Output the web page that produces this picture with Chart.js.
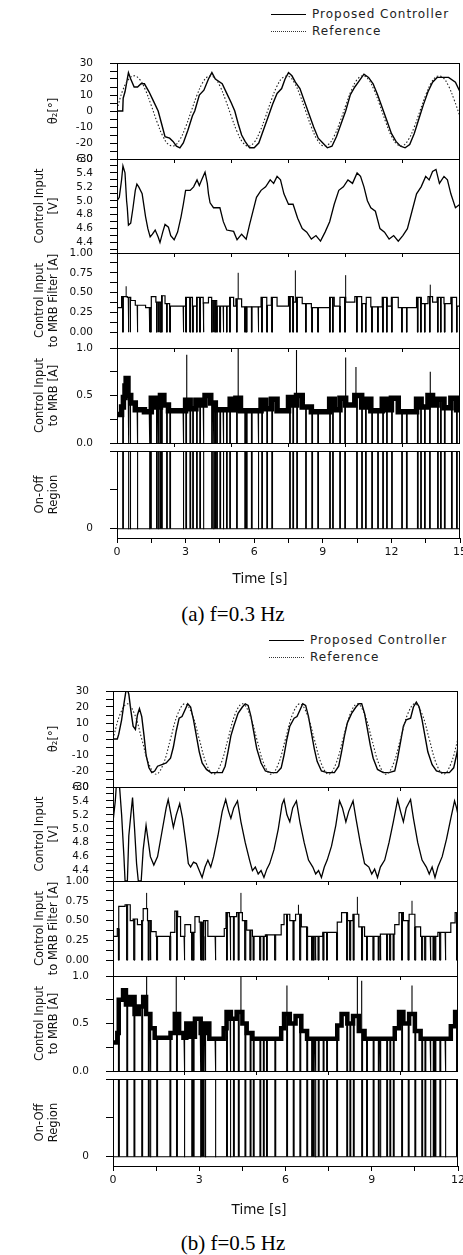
<!DOCTYPE html>
<html><head><meta charset="utf-8">
<script src="https://cdn.jsdelivr.net/npm/chart.js"></script>
<style>
html,body{margin:0;padding:0;background:#fff;}
body{width:463px;height:1255px;position:relative;overflow:hidden;font-family:"DejaVu Sans",sans-serif;}
canvas{position:absolute;left:0;}
.txt{position:absolute;white-space:nowrap;line-height:1;transform:translate(-50%,-50%);}
.lgrow{position:absolute;height:16px;display:flex;align-items:center;font:12px "DejaVu Sans";letter-spacing:1px;color:#222;transform:translateY(-50%);}
.lgline{display:inline-block;width:35px;height:0;border-top:1.3px solid #000;margin-right:6px;}
.lgdot{border-top:1.3px dotted #333;}
.cap{font:21px "Liberation Serif",serif;color:#000;}
.xt{font:13.5px "DejaVu Sans",sans-serif;color:#111;}
</style></head><body>
<script>
// ---------------- DATA ----------------
// (a) f = 0.3 Hz, 0..15 s
const timeTicksA = [0,1.5,3,4.5,6,7.5,9,10.5,12,13.5,15];
const timeLabelsA = ['0','','3','','6','','9','','12','','15'];
const innerTimeTicksA = [2.5,5,7.5,10,12.5];
// (b) f = 0.5 Hz, 0..12 s
const timeTicksB = [0,1.5,3,4.5,6,7.5,9,10.5,12];
const timeLabelsB = ['0','','3','','6','','9','','12'];
const innerTimeTicksB = [2.5,5,7.5,10];

const thetaTicks = [-30,-25,-20,-15,-10,-5,0,5,10,15,20,25,30];
const thetaTickLabels = ['-30','','-20','','-10','','0','','10','','20','','30'];
const voltTicks = [4.3,4.4,4.5,4.6,4.7,4.8,4.9,5.0,5.1,5.2,5.3,5.4,5.5,5.6];
const voltTickLabels = ['','4.4','','4.6','','4.8','','5.0','','5.2','','5.4','','6.0'];
const filterTicks = [0,0.125,0.25,0.375,0.5,0.625,0.75,0.875,1.0];
const filterTickLabels = ['0.00','','0.25','','0.50','','0.75','','1.00'];
const mrbTicks = [0,0.25,0.5,0.75,1.0];
const mrbTickLabels = ['0.0','','0.5','','1.0'];
const onOffTicks = [0,0.5,1];
const onOffTickLabels = ['0','',''];

// θ2 proposed controller (a) [t, deg]
const thetaPropA = [[0,0],[0.25,0],[0.27,8],[0.35,12],[0.5,24],[0.6,20],[0.75,15],[0.9,15],[1.05,17],[1.2,17],[1.4,12],[1.6,6],[1.8,0],[1.95,-8],[2.1,-16],[2.3,-17],[2.45,-19],[2.6,-22],[2.75,-23],[2.9,-20],[3.1,-12],[3.3,-3],[3.4,0],[3.6,10],[3.8,13],[4.0,20],[4.15,24],[4.3,20],[4.6,17],[4.8,11],[5.0,5],[5.15,0],[5.3,-8],[5.45,-15],[5.6,-19],[5.8,-23],[6.0,-23],[6.2,-20],[6.4,-12],[6.6,-4],[6.8,4],[7.0,11],[7.2,14],[7.35,20],[7.5,24],[7.65,22],[7.8,18],[8.0,14],[8.2,6],[8.4,-2],[8.6,-10],[8.8,-17],[9.0,-20],[9.2,-23],[9.4,-22],[9.6,-16],[9.8,-8],[10.0,0],[10.2,10],[10.4,15],[10.6,19],[10.8,23],[11.0,21],[11.2,17],[11.4,10],[11.6,2],[11.8,-6],[12.0,-14],[12.2,-19],[12.4,-22],[12.6,-23],[12.8,-21],[13.0,-14],[13.2,-5],[13.4,4],[13.6,12],[13.8,18],[14.0,21],[14.2,21],[14.5,21],[14.8,18],[15.0,12]];
// θ2 reference (a), sampled every 0.25 s
const thetaRefStepA = 0.25;
const thetaRefA = [1,12.9,19.6,22,19.6,12.9,3.4,-6.8,-15.6,-20.9,-21.7,-17.8,-10,0,10,17.8,21.7,20.9,15.6,6.8,-3.4,-12.9,-19.6,-22,-19.6,-12.9,-3.4,6.8,15.6,20.9,21.7,17.8,10,0,-10,-17.8,-21.7,-20.9,-15.6,-6.8,3.4,12.9,19.6,22,19.6,12.9,3.4,-6.8,-15.6,-20.9,-21.7,-17.8,-10,0,10,17.8,21.7,20.9,15.6,6.8,-3.4];
// control input voltage (a) [t, V]
const voltA = [[0,5.0],[0.1,5.05],[0.2,5.3],[0.26,5.5],[0.35,5.4],[0.42,5.0],[0.45,4.9],[0.5,4.65],[0.6,4.68],[0.7,4.9],[0.8,5.15],[0.87,5.24],[0.95,5.2],[1.1,5.1],[1.25,4.77],[1.35,4.6],[1.45,4.48],[1.55,4.52],[1.67,4.58],[1.8,4.48],[1.88,4.4],[2.0,4.55],[2.1,4.66],[2.25,4.62],[2.35,4.5],[2.5,4.44],[2.65,4.55],[2.8,4.77],[2.9,4.95],[3.0,5.15],[3.2,5.15],[3.35,5.2],[3.5,5.3],[3.6,5.22],[3.7,5.3],[3.85,5.41],[3.95,5.25],[4.0,5.1],[4.07,4.97],[4.22,4.9],[4.5,4.9],[4.65,4.7],[4.8,4.58],[5.1,4.56],[5.25,4.44],[5.45,4.52],[5.65,4.45],[5.8,4.66],[6.1,5.05],[6.3,5.15],[6.5,5.2],[6.7,5.3],[6.85,5.25],[7.0,5.35],[7.15,5.3],[7.3,5.1],[7.5,4.95],[7.7,4.95],[7.9,4.75],[8.1,4.6],[8.3,4.55],[8.5,4.45],[8.7,4.5],[8.9,4.42],[9.1,4.55],[9.3,4.7],[9.5,4.95],[9.7,5.15],[9.9,5.2],[10.1,5.3],[10.3,5.25],[10.5,5.4],[10.65,5.35],[10.8,5.2],[10.95,5.0],[11.1,4.9],[11.3,4.85],[11.5,4.6],[11.7,4.55],[11.9,4.45],[12.1,4.5],[12.3,4.42],[12.5,4.5],[12.7,4.6],[12.9,4.85],[13.1,5.1],[13.3,5.2],[13.5,5.35],[13.65,5.3],[13.8,5.42],[13.95,5.45],[14.1,5.25],[14.3,5.35],[14.45,5.3],[14.6,5.1],[14.8,4.9],[15.0,4.95]];
// on-off switching instants (a) [s]
const onOffA = [0.25,0.49,0.57,0.88,1.41,1.47,1.73,1.80,1.88,1.95,2.17,2.31,2.89,3.01,3.19,3.31,3.48,3.62,3.77,4.14,4.21,4.28,4.36,4.50,4.64,4.79,4.93,5.23,5.59,5.66,5.88,6.17,6.33,6.55,6.77,7.55,7.69,7.86,8.25,8.52,8.78,9.30,9.43,9.74,9.96,10.48,10.70,10.87,11.14,11.40,11.62,11.79,12.01,12.45,12.66,13.14,13.28,13.45,13.67,14.02,14.15,14.32,14.63,14.85];
// MRB filter input levels (a) [t, A] (held)
const filterA = [[0,0.31],[0.2,0.45],[0.45,0.44],[0.6,0.40],[0.8,0.34],[1.25,0.31],[1.5,0.45],[1.7,0.38],[1.95,0.46],[2.1,0.36],[2.3,0.33],[3.0,0.44],[3.3,0.33],[3.48,0.44],[3.77,0.37],[4.0,0.44],[4.14,0.40],[4.36,0.33],[4.93,0.44],[5.1,0.33],[5.2,0.42],[5.45,0.32],[6.3,0.44],[6.55,0.34],[6.75,0.44],[7.0,0.33],[7.5,0.45],[7.7,0.38],[7.85,0.44],[8.1,0.36],[8.5,0.31],[9.3,0.44],[9.5,0.33],[9.75,0.44],[10.0,0.38],[10.4,0.45],[10.7,0.36],[10.9,0.44],[11.1,0.32],[11.6,0.44],[11.8,0.33],[12.0,0.44],[12.3,0.31],[13.1,0.44],[13.3,0.36],[13.6,0.45],[13.8,0.38],[14.0,0.44],[14.3,0.36],[14.6,0.44],[14.85,0.33]];
const filterSpikesA = [[0.4,0.58],[5.3,0.75],[7.8,0.78],[10.0,0.72],[13.7,0.6]];
// MRB input current levels (a)
const mrbA = [[0,0.3],[0.2,0.38],[0.28,0.48],[0.35,0.6],[0.4,0.68],[0.48,0.5],[0.6,0.42],[0.8,0.35],[1.2,0.33],[1.5,0.47],[1.7,0.38],[1.9,0.5],[2.05,0.4],[2.25,0.34],[3.0,0.45],[3.2,0.36],[3.45,0.45],[3.65,0.4],[3.85,0.5],[4.1,0.42],[4.3,0.35],[4.95,0.46],[5.1,0.35],[5.2,0.47],[5.4,0.34],[6.3,0.45],[6.5,0.36],[6.75,0.46],[7.0,0.34],[7.5,0.48],[7.7,0.4],[7.85,0.5],[8.1,0.38],[8.5,0.33],[9.3,0.46],[9.5,0.35],[9.75,0.47],[10.0,0.4],[10.4,0.5],[10.7,0.38],[10.9,0.46],[11.1,0.34],[11.6,0.46],[11.8,0.35],[12.0,0.47],[12.3,0.33],[13.1,0.46],[13.3,0.38],[13.6,0.5],[13.8,0.4],[14.0,0.46],[14.3,0.37],[14.6,0.47],[14.85,0.35]];
const mrbSpikesA = [[3.05,0.93],[5.3,1.0],[7.85,0.98],[10.0,0.9],[10.45,0.8],[13.7,0.75]];

// θ2 proposed (b)
const thetaPropB = [[0,0],[0.15,0],[0.2,3],[0.3,12],[0.38,22],[0.45,30],[0.5,31],[0.55,28],[0.62,18],[0.7,8],[0.78,6],[0.85,15],[0.92,19],[1.0,14],[1.08,2],[1.15,-10],[1.25,-18],[1.35,-21],[1.45,-20],[1.55,-17],[1.7,-16],[1.85,-15],[2.0,-12],[2.1,-5],[2.2,5],[2.3,13],[2.4,14],[2.5,18],[2.6,22],[2.7,20],[2.8,12],[2.9,2],[3.0,-8],[3.1,-15],[3.25,-19],[3.4,-21],[3.6,-21],[3.8,-21],[3.9,-17],[4.0,-8],[4.1,2],[4.2,8],[4.35,16],[4.5,20],[4.6,22],[4.7,21],[4.8,14],[4.9,4],[5.0,-6],[5.15,-15],[5.3,-20],[5.5,-21],[5.7,-21],[5.85,-18],[5.95,-10],[6.05,0],[6.15,8],[6.3,13],[6.4,14],[6.5,18],[6.6,22],[6.7,21],[6.8,14],[6.9,4],[7.0,-6],[7.1,-14],[7.25,-20],[7.45,-21],[7.7,-21],[7.85,-17],[7.95,-8],[8.05,2],[8.15,10],[8.3,16],[8.45,20],[8.55,22],[8.65,22],[8.75,16],[8.85,6],[8.95,-4],[9.05,-12],[9.2,-19],[9.4,-21],[9.6,-21],[9.8,-20],[9.9,-12],[10.0,-2],[10.1,8],[10.2,12],[10.35,13],[10.45,20],[10.55,23],[10.65,20],[10.75,12],[10.85,2],[10.95,-8],[11.1,-16],[11.25,-20],[11.45,-21],[11.7,-21],[11.85,-18],[11.95,-10],[12,-5]];
const thetaRefStepB = 0.25;
const thetaRefB = [0,15.6,22,15.6,0,-15.6,-22,-15.6,0,15.6,22,15.6,0,-15.6,-22,-15.6,0,15.6,22,15.6,0,-15.6,-22,-15.6,0,15.6,22,15.6,0,-15.6,-22,-15.6,0,15.6,22,15.6,0,-15.6,-22,-15.6,0,15.6,22,15.6,0,-15.6,-22,-15.6,0];
const voltB = [[0,5.1],[0.08,5.4],[0.12,5.65],[0.22,5.65],[0.3,5.2],[0.38,4.6],[0.42,4.25],[0.5,4.25],[0.55,4.9],[0.62,5.2],[0.68,5.45],[0.75,5.0],[0.82,4.5],[0.88,4.25],[0.98,4.25],[1.05,4.7],[1.15,5.05],[1.2,4.9],[1.3,4.6],[1.42,4.48],[1.55,4.6],[1.7,4.95],[1.85,5.3],[1.92,5.42],[2.02,5.2],[2.1,5.02],[2.2,5.2],[2.32,5.36],[2.42,5.15],[2.55,4.75],[2.62,4.5],[2.7,4.45],[2.8,4.52],[2.9,4.5],[3.0,4.4],[3.1,4.3],[3.2,4.45],[3.3,4.55],[3.4,4.45],[3.5,4.6],[3.65,4.9],[3.8,5.25],[3.92,5.42],[4.02,5.25],[4.1,5.15],[4.2,5.3],[4.33,5.4],[4.45,5.1],[4.6,4.8],[4.75,4.55],[4.85,4.4],[4.95,4.45],[5.05,4.35],[5.15,4.4],[5.25,4.3],[5.35,4.42],[5.45,4.5],[5.6,4.7],[5.75,5.0],[5.88,5.35],[5.95,5.42],[6.05,5.2],[6.15,5.1],[6.25,5.3],[6.38,5.4],[6.5,5.1],[6.65,4.8],[6.8,4.55],[6.95,4.45],[7.05,4.35],[7.15,4.4],[7.25,4.3],[7.35,4.45],[7.45,4.55],[7.6,4.75],[7.75,5.05],[7.88,5.4],[7.98,5.3],[8.1,5.1],[8.2,5.25],[8.35,5.4],[8.45,5.15],[8.6,4.8],[8.75,4.5],[8.9,4.45],[9.0,4.35],[9.1,4.42],[9.2,4.3],[9.3,4.45],[9.45,4.55],[9.6,4.8],[9.75,5.1],[9.9,5.42],[10.0,5.25],[10.1,5.1],[10.2,5.3],[10.35,5.42],[10.45,5.15],[10.6,4.8],[10.75,4.55],[10.9,4.45],[11.0,4.35],[11.1,4.45],[11.2,4.3],[11.3,4.45],[11.45,4.6],[11.6,4.85],[11.75,5.15],[11.88,5.4],[11.95,5.3],[12,5.2]];
const onOffB = [0.19,0.48,0.73,1.0,1.23,1.29,1.52,1.98,2.21,2.47,2.74,2.79,3.03,3.08,3.14,3.2,3.55,3.95,4.07,4.19,4.36,4.59,4.77,4.88,5.11,5.23,5.34,5.63,6.04,6.27,6.5,6.74,6.91,6.97,7.03,7.14,7.31,7.43,7.78,8.13,8.24,8.36,8.65,8.82,9.05,9.23,9.29,9.52,9.63,9.75,10.04,10.27,10.5,10.74,10.85,11.03,11.14,11.2,11.37,11.55,11.95];
const filterB = [[0,0.3],[0.15,0.4],[0.2,0.68],[0.42,0.7],[0.6,0.5],[0.7,0.52],[0.85,0.45],[1.0,0.5],[1.05,0.65],[1.2,0.5],[1.33,0.36],[1.5,0.3],[2.0,0.35],[2.15,0.62],[2.25,0.55],[2.35,0.3],[2.5,0.45],[2.7,0.35],[2.85,0.55],[3.0,0.48],[3.1,0.3],[3.15,0.5],[3.3,0.3],[3.87,0.4],[3.93,0.6],[4.05,0.55],[4.3,0.6],[4.5,0.5],[4.65,0.38],[4.85,0.3],[5.3,0.32],[5.85,0.45],[5.95,0.58],[6.15,0.5],[6.35,0.58],[6.55,0.42],[6.75,0.3],[7.3,0.35],[7.8,0.48],[7.95,0.6],[8.15,0.5],[8.35,0.58],[8.55,0.42],[8.75,0.3],[9.3,0.33],[9.8,0.45],[9.95,0.6],[10.1,0.5],[10.3,0.58],[10.5,0.42],[10.7,0.3],[11.3,0.35],[11.75,0.47],[11.9,0.6]];
const filterSpikesB = [[1.17,0.85],[4.45,0.85],[6.45,0.7],[8.5,0.8],[10.4,0.75]];
const mrbB = [[0,0.3],[0.15,0.4],[0.2,0.75],[0.35,0.85],[0.45,0.7],[0.6,0.78],[0.75,0.6],[0.9,0.68],[1.05,0.78],[1.15,0.6],[1.3,0.45],[1.45,0.35],[2.0,0.4],[2.15,0.6],[2.3,0.4],[2.45,0.35],[2.55,0.5],[2.7,0.36],[2.85,0.55],[3.05,0.4],[3.2,0.5],[3.35,0.34],[3.85,0.45],[3.95,0.62],[4.1,0.55],[4.3,0.62],[4.5,0.5],[4.65,0.4],[4.85,0.34],[5.85,0.45],[5.95,0.6],[6.15,0.5],[6.35,0.58],[6.55,0.42],[6.75,0.34],[7.8,0.48],[7.95,0.6],[8.15,0.5],[8.35,0.58],[8.55,0.42],[8.75,0.34],[9.8,0.45],[9.95,0.62],[10.1,0.5],[10.3,0.6],[10.5,0.42],[10.7,0.34],[11.75,0.47],[11.9,0.62]];
const mrbSpikesB = [[1.17,1.0],[2.2,1.0],[4.45,1.0],[6.05,0.9],[8.5,1.0],[8.65,0.95],[10.4,0.9]];

// ---------------- HELPERS ----------------
const pts = pairs => pairs.map(([x,y]) => ({x, y}));
const sampled = (vals, step) => vals.map((y,i) => ({x: i*step, y}));
function stepPts(steps, tEnd){
  const out=[]; let cur=null;
  steps.forEach(([t,v])=>{ if(cur!==null) out.push({x:t,y:cur}); out.push({x:t,y:v}); cur=v; });
  out.push({x:tEnd,y:cur}); return out;
}
function levelAt(steps,t){ let v=steps[0][1]; for(const [s,val] of steps){ if(s<=t) v=val; else break; } return v; }
function pulseLines(steps, times, w, to){
  const out=[];
  times.forEach(t=>{ const b=levelAt(steps,t); out.push({x:t,y:b},{x:t,y:to},{x:t+w,y:to},{x:t+w,y:b},{x:t+w,y:null}); });
  return out;
}
function spikeLines(steps, spikes){
  const out=[];
  spikes.forEach(([t,h])=>{ const b=levelAt(steps,t); out.push({x:t,y:b},{x:t,y:h},{x:t,y:null}); });
  return out;
}
const line = (data, w, extra) => Object.assign({data, borderColor:'#000', borderWidth:w, pointRadius:0, fill:false, tension:0, spanGaps:false}, extra||{});

const framePlugin = { id:'frame', afterDatasetsDraw(chart){
  const {ctx, chartArea:a} = chart; ctx.save(); ctx.strokeStyle='#000'; ctx.lineWidth=1;
  ctx.strokeRect(Math.round(a.left)+0.5, Math.round(a.top)+0.5, Math.round(a.right-a.left)-1, Math.round(a.bottom-a.top));
  ctx.restore(); } };

Chart.defaults.font.family = '"DejaVu Sans", sans-serif';

const PADTOP = 12;
function makePanel(p){
  const c = document.createElement('canvas');
  const H = p.bottom - p.top + PADTOP + p.extra;
  c.width = 463; c.height = H;
  c.style.top = (p.top - PADTOP) + 'px'; c.style.width='463px'; c.style.height=H+'px';
  document.body.appendChild(c);
  const lh = 11.5*1.2;
  const titlePad = p.titleLines === 1 ? 54 - lh/2 : 40 - lh/2;
  new Chart(c, {
    type:'line',
    data:{datasets:p.datasets},
    options:{
      responsive:false, animation:false, devicePixelRatio:1,
      layout:{padding:{top:PADTOP, left:0, right:463-p.right, bottom:0}, autoPadding:false},
      plugins:{legend:{display:false}, tooltip:{enabled:false}},
      scales:{
        x:{type:'linear', min:0, max:p.tmax, position:'bottom',
          afterBuildTicks:s=>{ s.ticks = p.xTicks.map(v=>({value:v})); },
          afterFit:s=>{ s.height = p.extra; s.paddingLeft=0; s.paddingRight=0; s.paddingTop=0; s.paddingBottom=0; },
          grid:{display:true, drawOnChartArea:false, drawTicks:true, tickLength:p.xLabels?5:4, color:'#000', tickColor:'#000', lineWidth:1},
          border:{display:false},
          ticks:{display:!!p.xLabels, autoSkip:false, maxRotation:0, padding:3, color:'#111', font:{size:11},
            callback:(v,i)=> p.xLabels ? p.xLabels[i] : ''}
        },
        y:{type:'linear', min:p.yMin, max:p.yMax, position:'left',
          afterBuildTicks:s=>{ s.ticks = p.yTicks.map(v=>({value:v})); },
          afterFit:s=>{ s.width = p.left; s.paddingLeft=0; s.paddingRight=0; s.paddingTop=0; s.paddingBottom=0; },
          grid:{display:true, drawOnChartArea:false, drawTicks:true, tickLength:7, color:'#000', tickColor:'#000', lineWidth:1},
          border:{display:false},
          ticks:{autoSkip:false, padding:17, color:'#111', font:{size:10.5}, callback:(v,i)=>p.yLabels[i]},
          title:{display:true, text:p.title, color:'#111', font:{size:11.5, lineHeight:1.2}, padding:{top:titlePad, bottom:0}}
        }
      }
    },
    plugins:[framePlugin]
  });
}

function figure(F){
  const tEnd = F.tmax, w = 0.03;
  const common = {left:F.left, right:F.right, tmax:F.tmax, extra:12, xTicks:F.inner, xLabels:null};
  makePanel(Object.assign({}, common, {top:F.tops[0], bottom:F.bots[0], yMin:-30, yMax:30, yTicks:thetaTicks, yLabels:thetaTickLabels,
    title:'θ₂[°]', titleLines:1,
    datasets:[ line(sampled(F.thetaRef, F.refStep), 1.1, {borderDash:[1.5,2], borderColor:'#222', tension:0.4}), line(pts(F.thetaProp), 1.4) ]}));
  makePanel(Object.assign({}, common, {top:F.tops[1], bottom:F.bots[1], yMin:4.25, yMax:5.6, yTicks:voltTicks, yLabels:voltTickLabels,
    title:['Control Input','[V]'], titleLines:2,
    datasets:[ line(pts(F.volt), 1.3) ]}));
  makePanel(Object.assign({}, common, {top:F.tops[2], bottom:F.bots[2], yMin:-0.2, yMax:1.0, yTicks:filterTicks, yLabels:filterTickLabels,
    title:['Control Input','to MRB Filter [A]'], titleLines:2,
    datasets:[ line(stepPts(F.filter, tEnd), 1.2), line(pulseLines(F.filter, F.onOff, w, 0), 1), line(spikeLines(F.filter, F.filterSpikes), 1) ]}));
  makePanel(Object.assign({}, common, {top:F.tops[3], bottom:F.bots[3], yMin:0, yMax:1.0, yTicks:mrbTicks, yLabels:mrbTickLabels,
    title:['Control Input','to MRB [A]'], titleLines:2,
    datasets:[ line(stepPts(F.mrb, tEnd), F.band), line(pulseLines(F.mrb, F.onOff, w, 0), 1.1), line(spikeLines(F.mrb, F.mrbSpikes), 1.1) ]}));
  makePanel(Object.assign({}, common, {top:F.tops[4], bottom:F.bots[4], extra:32, xTicks:F.xTicks, xLabels:F.xLabels,
    yMin:-0.12, yMax:1.0, yTicks:onOffTicks, yLabels:onOffTickLabels,
    title:['On-Off','Region'], titleLines:2,
    datasets:[ line([{x:0,y:0},{x:tEnd,y:0}], 1.1), line(pulseLines([[0,0]], F.onOff, w, 1), 1.1) ]}));
}

figure({left:117, right:460, tmax:15, tops:[63,159,253,348,451], bots:[159,253,348,443,538],
  inner:innerTimeTicksA, xTicks:timeTicksA, xLabels:timeLabelsA, thetaProp:thetaPropA, thetaRef:thetaRefA, refStep:thetaRefStepA,
  volt:voltA, onOff:onOffA, filter:filterA, filterSpikes:filterSpikesA, mrb:mrbA, mrbSpikes:mrbSpikesA, band:5.5});
figure({left:113, right:458, tmax:12, tops:[691,787,881,976,1079], bots:[787,881,976,1071,1166],
  inner:innerTimeTicksB, xTicks:timeTicksB, xLabels:timeLabelsB, thetaProp:thetaPropB, thetaRef:thetaRefB, refStep:thetaRefStepB,
  volt:voltB, onOff:onOffB, filter:filterB, filterSpikes:filterSpikesB, mrb:mrbB, mrbSpikes:mrbSpikesB, band:4.5});

// ---------------- TEXT ----------------
function addText(cls, text, x, y){ const d=document.createElement('div'); d.className='txt '+cls; d.textContent=text; d.style.left=x+'px'; d.style.top=y+'px'; document.body.appendChild(d); }
function addLegend(x, y1, y2){
  [[y1,'lgline','Proposed Controller'],[y2,'lgline lgdot','Reference']].forEach(([y,cls,t])=>{
    const r=document.createElement('div'); r.className='lgrow'; r.style.left=x+'px'; r.style.top=y+'px';
    const l=document.createElement('span'); l.className=cls; r.appendChild(l);
    const s=document.createElement('span'); s.textContent=t; r.appendChild(s);
    document.body.appendChild(r);
  });
}
addLegend(271, 14, 31);
addLegend(269, 640, 657);
addText('xt','Time [s]', 260, 578);
addText('xt','Time [s]', 259, 1209);
addText('cap','(a) f=0.3 Hz', 233, 614);
addText('cap','(b) f=0.5 Hz', 233, 1243);
</script>
</body></html>
